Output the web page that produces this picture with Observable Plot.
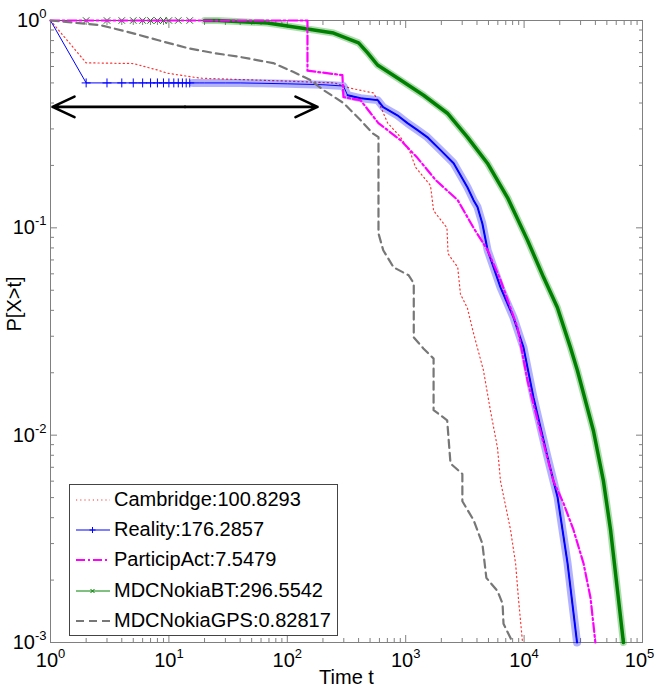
<!DOCTYPE html>
<html><head><meta charset="utf-8">
<script src="https://cdn.jsdelivr.net/npm/d3@7"></script>
<script src="https://cdn.jsdelivr.net/npm/@observablehq/plot@0.6"></script>
<style>
body{margin:0;background:#fff;font-family:"Liberation Sans",Arial,sans-serif;}
#wrap{position:relative;width:656px;height:692px;}
#legend{position:absolute;left:69px;top:484px;width:269px;height:152px;border:1px solid #444;background:#fff;box-sizing:border-box;}
.row{position:absolute;left:0;height:30px;width:267px;}
.row svg{position:absolute;left:5px;top:10px;}
.row span{position:absolute;left:44px;top:3px;font-size:20px;color:#000;white-space:nowrap;}
</style></head><body><div id="wrap"></div>
<script>
// ---- data ----
const seriesLabels = ["Cambridge:100.8293","Reality:176.2857","ParticipAct:7.5479","MDCNokiaBT:296.5542","MDCNokiaGPS:0.82817"];

const cambridgeX = [1, 2, 5, 8, 9.7, 18.5, 100, 250, 340, 535, 580, 705, 904, 1100, 1210, 1620, 1720, 2230, 2280, 2750, 2900, 3320, 3740, 4540, 5200, 5960, 6320, 7680, 8480, 8950, 9700];
const cambridgeY = [1, 0.625, 0.62, 0.577, 0.557, 0.527, 0.51, 0.5, 0.472, 0.447, 0.413, 0.32, 0.274, 0.229, 0.196, 0.16, 0.121, 0.1, 0.075, 0.0645, 0.048, 0.041, 0.031, 0.0205, 0.0131, 0.0087, 0.006, 0.0035, 0.0024, 0.00164, 0.001];

const realityX = [1, 2, 3, 4, 5, 6, 7, 8, 9, 10, 11, 12, 13, 14, 15, 16, 18, 20, 25, 30, 40, 60, 100, 200, 298, 323, 415, 580, 645, 850, 1035, 1260, 1520, 1970, 2540, 3320, 3740, 4040, 4440, 4920, 6320, 8130, 9880, 12000, 15800, 19200, 23300, 28000];
const realityY = [1, 0.5, 0.5, 0.5, 0.5, 0.5, 0.5, 0.5, 0.5, 0.5, 0.5, 0.5, 0.5, 0.5, 0.5, 0.5, 0.5, 0.5, 0.5, 0.5, 0.5, 0.498, 0.495, 0.49, 0.483, 0.436, 0.422, 0.413, 0.382, 0.349, 0.32, 0.296, 0.274, 0.237, 0.205, 0.157, 0.136, 0.126, 0.105, 0.078, 0.0516, 0.037, 0.0265, 0.0152, 0.0078, 0.005, 0.0024, 0.001];

const participX = [1, 148, 148, 292, 298, 415, 506, 588, 904, 1260, 1790, 2750, 3740, 4920, 6320, 8800, 10700, 13700, 17700, 21500, 26100, 31800, 36400, 40000];
const participY = [1, 1, 0.573, 0.545, 0.427, 0.413, 0.357, 0.32, 0.265, 0.217, 0.17, 0.136, 0.1, 0.078, 0.056, 0.033, 0.0183, 0.0105, 0.006, 0.0047, 0.0035, 0.0024, 0.00164, 0.001];

const nokiaBTX = [1, 2, 3, 4, 5, 6, 7, 8, 9, 10, 12, 15, 20, 25.7, 68, 130, 246, 400, 475, 578, 904, 1415, 2250, 3320, 4900, 7240, 10700, 14600, 19100, 24600, 28200, 38500, 46800, 53700, 61500, 69000];
const nokiaBTY = [1, 1, 1, 1, 1, 1, 1, 1, 1, 1, 1, 1, 1, 1, 0.972, 0.92, 0.87, 0.78, 0.70, 0.61, 0.516, 0.436, 0.357, 0.274, 0.205, 0.14, 0.087, 0.0577, 0.0413, 0.0265, 0.0205, 0.0105, 0.006, 0.0035, 0.00178, 0.001];

const nokiaGPSX = [1, 2.64, 5, 8, 14.4, 23.8, 40, 76, 113, 157, 202, 298, 415, 525, 589, 589, 646, 790, 1060, 1170, 1170, 1410, 1720, 1720, 2240, 2390, 3010, 3010, 3740, 4440, 4800, 5960, 6580, 6700, 7680, 8000];
const nokiaGPSY = [1, 0.95, 0.867, 0.805, 0.736, 0.697, 0.667, 0.623, 0.564, 0.516, 0.462, 0.40, 0.331, 0.286, 0.274, 0.094, 0.078, 0.0645, 0.059, 0.054, 0.0296, 0.0262, 0.0234, 0.0132, 0.0118, 0.0073, 0.0065, 0.0048, 0.0039, 0.003, 0.00205, 0.00177, 0.00154, 0.00123, 0.00105, 0.001];

const arrowX = [1.04, 180];
const arrowY = 0.383;
const xLabel = "Time t";
const yLabel = "P[X>t]";
const xDomain = [1, 1e5];
const yDomain = [1e-3, 1];

// ---- build rows ----
const rows = (xs, ys) => xs.map((x, i) => ({x, y: ys[i]}));
const camb = rows(cambridgeX, cambridgeY);
const real = rows(realityX, realityY);
const part = rows(participX, participY);
const bt = rows(nokiaBTX, nokiaBTY);
const gps = rows(nokiaGPSX, nokiaGPSY);

const xs = d3.scaleLog().domain(xDomain);
const ys = d3.scaleLog().domain(yDomain);
const isDecade = t => Math.abs(Math.round(Math.log10(t)) - Math.log10(t)) < 1e-9;
const xMajor = xs.ticks().filter(isDecade);
const yMajor = ys.ticks().filter(isDecade);
const xMinor = xs.ticks().filter(t => !isDecade(t));
const yMinor = ys.ticks().filter(t => !isDecade(t));
const fmt = d => `10^${Math.round(Math.log10(d))}`;
const mid = Math.sqrt(arrowX[0] * arrowX[1]);
const arrows = [{x1: mid, x2: arrowX[0]}, {x1: mid, x2: arrowX[1]}];

const axisGray = "#808080";
const blue = "#0000ff", green = "#008000", magenta = "#ff00ff", red = "#ff0000", gray = "#777777";

const chart = Plot.plot({
  width: 656, height: 692,
  marginLeft: 50, marginRight: 14, marginTop: 20, marginBottom: 50,
  x: {type: "log", domain: xDomain},
  y: {type: "log", domain: yDomain},
  style: {fontFamily: "'Liberation Sans', Arial, sans-serif", color: "black", background: "white"},
  marks: [
    Plot.frame({stroke: axisGray}),
    Plot.axisX(xMinor, {anchor: "bottom", tickSize: -4, fill: "none", label: null, stroke: axisGray}),
    Plot.axisX(xMinor, {anchor: "top", tickSize: -4, fill: "none", label: null, stroke: axisGray}),
    Plot.axisX(xMajor, {anchor: "bottom", tickSize: -7, fill: "none", label: null, stroke: axisGray}),
    Plot.axisX(xMajor, {anchor: "top", tickSize: -7, fill: "none", label: null, stroke: axisGray}),
    Plot.axisY(yMinor, {anchor: "left", tickSize: -4, fill: "none", label: null, stroke: axisGray}),
    Plot.axisY(yMinor, {anchor: "right", tickSize: -4, fill: "none", label: null, stroke: axisGray}),
    Plot.axisY(yMajor, {anchor: "left", tickSize: -7, fill: "none", label: null, stroke: axisGray}),
    Plot.axisY(yMajor, {anchor: "right", tickSize: -7, fill: "none", label: null, stroke: axisGray}),
    Plot.axisX(xMajor, {anchor: "bottom", tickSize: 0, tickPadding: 10, tickFormat: fmt, fontSize: 20, label: null}),
    Plot.axisY(yMajor, {anchor: "left", tickSize: 0, tickPadding: 4, tickFormat: fmt, fontSize: 20, label: null}),
    Plot.text([xLabel], {text: d => d, frameAnchor: "bottom", dy: 41, fontSize: 20}),
    Plot.text([yLabel], {text: d => d, frameAnchor: "left", dx: -36, rotate: -90, fontSize: 20}),
    // Cambridge
    Plot.line(camb, {x: "x", y: "y", stroke: red, strokeWidth: 1.2, strokeDasharray: "1.2,3", strokeOpacity: 0.8}),
    // Reality
    Plot.line(real.filter(d => d.x >= 16), {x: "x", y: "y", stroke: blue, strokeWidth: 8, strokeOpacity: 0.3}),
    Plot.line(real, {x: "x", y: "y", stroke: blue, strokeWidth: 1}),
    Plot.line(real.filter(d => d.x >= 300), {x: "x", y: "y", stroke: blue, strokeWidth: 2}),
    Plot.dot(real.filter(d => d.x > 1 && d.x < 16), {x: "x", y: "y", symbol: "plus", r: 3, stroke: blue, strokeWidth: 1}),
    // MDC Nokia BT
    Plot.line(bt.filter(d => d.x >= 20), {x: "x", y: "y", stroke: "#1a9a1a", strokeWidth: 7, strokeOpacity: 0.35}),
    Plot.line(bt, {x: "x", y: "y", stroke: green, strokeWidth: 1}),
    Plot.line(bt.filter(d => d.x >= 20), {x: "x", y: "y", stroke: green, strokeWidth: 3.5}),
    Plot.dot(bt.filter(d => d.x > 1 && d.x < 20), {x: "x", y: "y", symbol: "times", r: 3, stroke: green, strokeWidth: 1}),
    // ParticipAct
    Plot.line(part, {x: "x", y: "y", stroke: magenta, strokeWidth: 2.2, strokeDasharray: "9,3,2,3"}),
    // MDC Nokia GPS
    Plot.line(gps, {x: "x", y: "y", stroke: gray, strokeWidth: 2.2, strokeDasharray: "8,5"}),
    // double arrow
    Plot.arrow(arrows, {x1: "x1", x2: "x2", y1: () => arrowY, y2: () => arrowY, bend: 0, stroke: "black", strokeWidth: 2.6, headLength: 14, headAngle: 50})
  ]
});

// superscript exponents in tick labels
const NS = "http://www.w3.org/2000/svg";
chart.querySelectorAll("text").forEach(t => {
  const m = /^10\^(-?\d+)$/.exec(t.textContent);
  if (!m) return;
  t.textContent = "";
  const a = document.createElementNS(NS, "tspan"); a.textContent = "10";
  const b = document.createElementNS(NS, "tspan"); b.textContent = m[1];
  b.setAttribute("dy", "-9"); b.setAttribute("font-size", "13");
  t.append(a, b);
  // keep the last x label inside the picture
  if (m[1] === "5") t.setAttribute("dx", "-3");
});

const wrap = document.getElementById("wrap");
wrap.append(chart);

// ---- legend ----
const legendStyles = [
  {stroke: red, width: 1.2, dash: "1.2,3", opacity: 0.8},
  {stroke: blue, width: 1, dash: null, marker: "plus"},
  {stroke: magenta, width: 2.2, dash: "9,3,2,3"},
  {stroke: green, width: 1, dash: null, marker: "times"},
  {stroke: gray, width: 2.2, dash: "8,5"}
];
const legend = document.createElement("div"); legend.id = "legend";
seriesLabels.forEach((lab, i) => {
  const s = legendStyles[i];
  const row = document.createElement("div"); row.className = "row";
  row.style.top = (i * 30 + (i >= 3 ? 1 : 0)) + "px";
  let mk = "";
  if (s.marker === "plus") mk = `<path d="M17.5,2L17.5,8M14.5,5L20.5,5" stroke="${s.stroke}" stroke-width="1"/>`;
  if (s.marker === "times") mk = `<path d="M15.5,3L19.5,7M15.5,7L19.5,3" stroke="${s.stroke}" stroke-width="1"/>`;
  row.innerHTML = `<svg width="36" height="10"><line x1="1" y1="5" x2="35" y2="5" stroke="${s.stroke}" stroke-width="${s.width}" ${s.dash ? `stroke-dasharray="${s.dash}"` : ""} ${s.opacity ? `stroke-opacity="${s.opacity}"` : ""}/>${mk}</svg><span>${lab}</span>`;
  legend.append(row);
});
wrap.append(legend);
</script>
</body></html>
